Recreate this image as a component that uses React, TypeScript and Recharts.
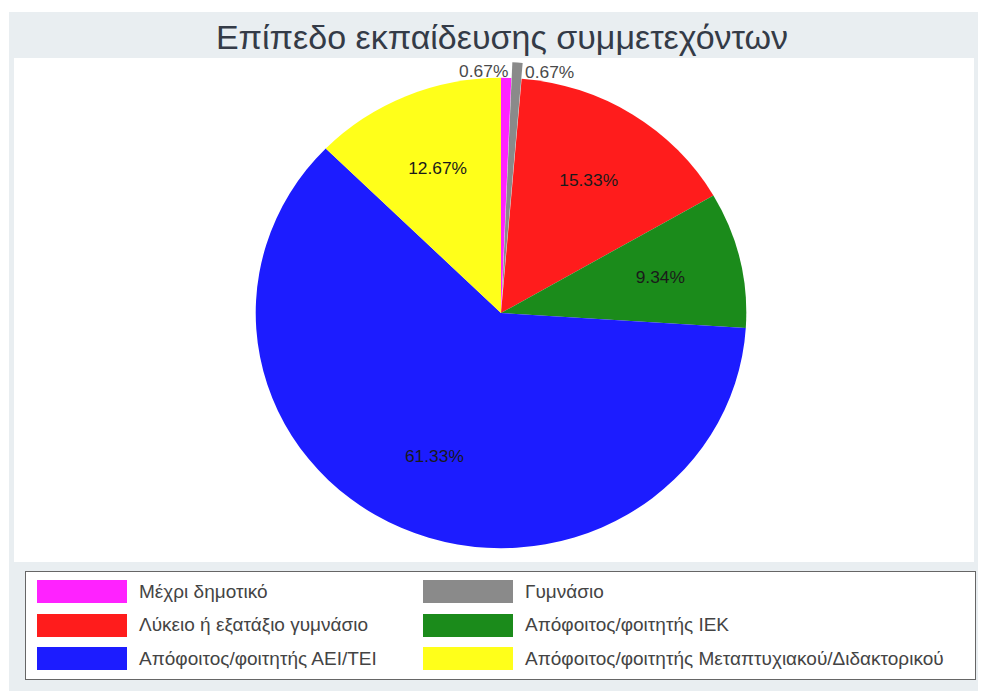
import { PieChart, Pie, Cell, Legend } from 'recharts';

// Επίπεδο εκπαίδευσης — pie with one exploded slice and a boxed two-column legend

const CATEGORIES = [
  'Μέχρι δημοτικό',
  'Γυμνάσιο',
  'Λύκειο ή εξατάξιο γυμνάσιο',
  'Απόφοιτος/φοιτητής ΙΕΚ',
  'Απόφοιτος/φοιτητής ΑΕΙ/ΤΕΙ',
  'Απόφοιτος/φοιτητής Μεταπτυχιακού/Διδακτορικού',
];
const PERCENTS = [0.67, 0.67, 15.33, 9.34, 61.33, 12.67];
const COLORS = ['#ff22ff', '#8a8a8a', '#ff1c1c', '#1b8b1b', '#1c1cff', '#ffff1a'];
const EXPLODED = 1;

const FONT = '"Liberation Sans", Arial, sans-serif';
const RAD = Math.PI / 180;

const CX = 501;
const CY = 313;
const R = 240;
const PULL = 16;

const data = CATEGORIES.map((name, i) => ({ name, value: PERCENTS[i] }));

// mid angle of the exploded slice, measured clockwise from 12 o'clock
const before = PERCENTS.slice(0, EXPLODED).reduce((a, b) => a + b, 0);
const total = PERCENTS.reduce((a, b) => a + b, 0);
const explodeMid = ((before + PERCENTS[EXPLODED] / 2) / total) * 360;
const EX_CX = CX + PULL * Math.sin(explodeMid * RAD);
const EX_CY = CY - PULL * Math.cos(explodeMid * RAD);

function renderLabel(props: any) {
  const { cx, cy, midAngle, outerRadius, index } = props;
  const v = PERCENTS[index];
  const small = v < 2;
  const r = small ? outerRadius + 6 : outerRadius * 0.667;
  const x = cx + r * Math.cos(-midAngle * RAD);
  const y = cy + r * Math.sin(-midAngle * RAD);
  let anchor: 'middle' | 'start' | 'end' = 'middle';
  let dx = 0;
  if (small) {
    anchor = index === EXPLODED ? 'start' : 'end';
    dx = index === EXPLODED ? 8 : 2;
  }
  return (
    <text
      key={`lbl-${index}`}
      x={x + dx}
      y={y}
      textAnchor={anchor}
      dominantBaseline="central"
      fontFamily={FONT}
      fontSize={17}
      fill={small ? '#4a4a4a' : '#1a1a1a'}
    >
      {v.toFixed(2)}%
    </text>
  );
}

function LegendBox() {
  return (
    <div
      style={{
        boxSizing: 'border-box',
        width: '100%',
        height: '100%',
        background: '#fff',
        border: '1.5px solid #666',
        position: 'relative',
        fontFamily: FONT,
        fontSize: 19,
        color: '#444',
      }}
    >
      {CATEGORIES.map((name, i) => {
        const col = i % 2;
        const row = Math.floor(i / 2);
        return (
          <div
            key={name}
            style={{
              position: 'absolute',
              left: col === 0 ? 11 : 397,
              top: 8 + row * 33.5,
              height: 23,
              display: 'flex',
              alignItems: 'center',
              whiteSpace: 'nowrap',
            }}
          >
            <span style={{ display: 'inline-block', width: 90, height: 23, background: COLORS[i] }} />
            <span style={{ marginLeft: 12 }}>{name}</span>
          </div>
        );
      })}
    </div>
  );
}

export default function App() {
  return (
    <div style={{ position: 'relative', width: 981, height: 691, background: '#fff', overflow: 'hidden' }}>
      <style>{`
        body { margin: 0; }
        .pie-wrap .recharts-surface { transform: scale(1.022, 0.98); transform-origin: ${CX}px ${CY}px; }
      `}</style>
      <div style={{ position: 'absolute', left: 9, top: 12, width: 969, height: 679, background: '#e9eef1' }} />
      <div style={{ position: 'absolute', left: 14, top: 58, width: 960, height: 504, background: '#fff' }} />
      <div
        style={{
          position: 'absolute',
          left: 0,
          top: 20,
          width: 1004,
          textAlign: 'center',
          fontFamily: FONT,
          fontSize: 34,
          lineHeight: '34px',
          color: '#343b47',
        }}
      >
        Επίπεδο εκπαίδευσης συμμετεχόντων
      </div>
      <div className="pie-wrap" style={{ position: 'absolute', left: 0, top: 0 }}>
        <PieChart width={981} height={691} margin={{ top: 0, right: 0, bottom: 0, left: 0 }}>
          <Pie
            data={data}
            dataKey="value"
            nameKey="name"
            cx={CX}
            cy={CY}
            outerRadius={R}
            startAngle={90}
            endAngle={-270}
            stroke="none"
            label={renderLabel}
            labelLine={false}
            isAnimationActive={false}
          >
            {data.map((d, i) => (
              <Cell key={d.name} fill={i === EXPLODED ? 'transparent' : COLORS[i]} stroke="none" />
            ))}
          </Pie>
          <Pie
            data={data}
            dataKey="value"
            nameKey="name"
            cx={EX_CX}
            cy={EX_CY}
            outerRadius={R}
            startAngle={90}
            endAngle={-270}
            stroke="none"
            legendType="none"
            isAnimationActive={false}
          >
            {data.map((d, i) => (
              <Cell key={d.name} fill={i === EXPLODED ? COLORS[i] : 'transparent'} stroke="none" />
            ))}
          </Pie>
          <Legend
            verticalAlign="bottom"
            content={() => <LegendBox />}
            wrapperStyle={{ left: 25, top: 571, bottom: 'auto', width: 951, height: 109 }}
          />
        </PieChart>
      </div>
    </div>
  );
}
